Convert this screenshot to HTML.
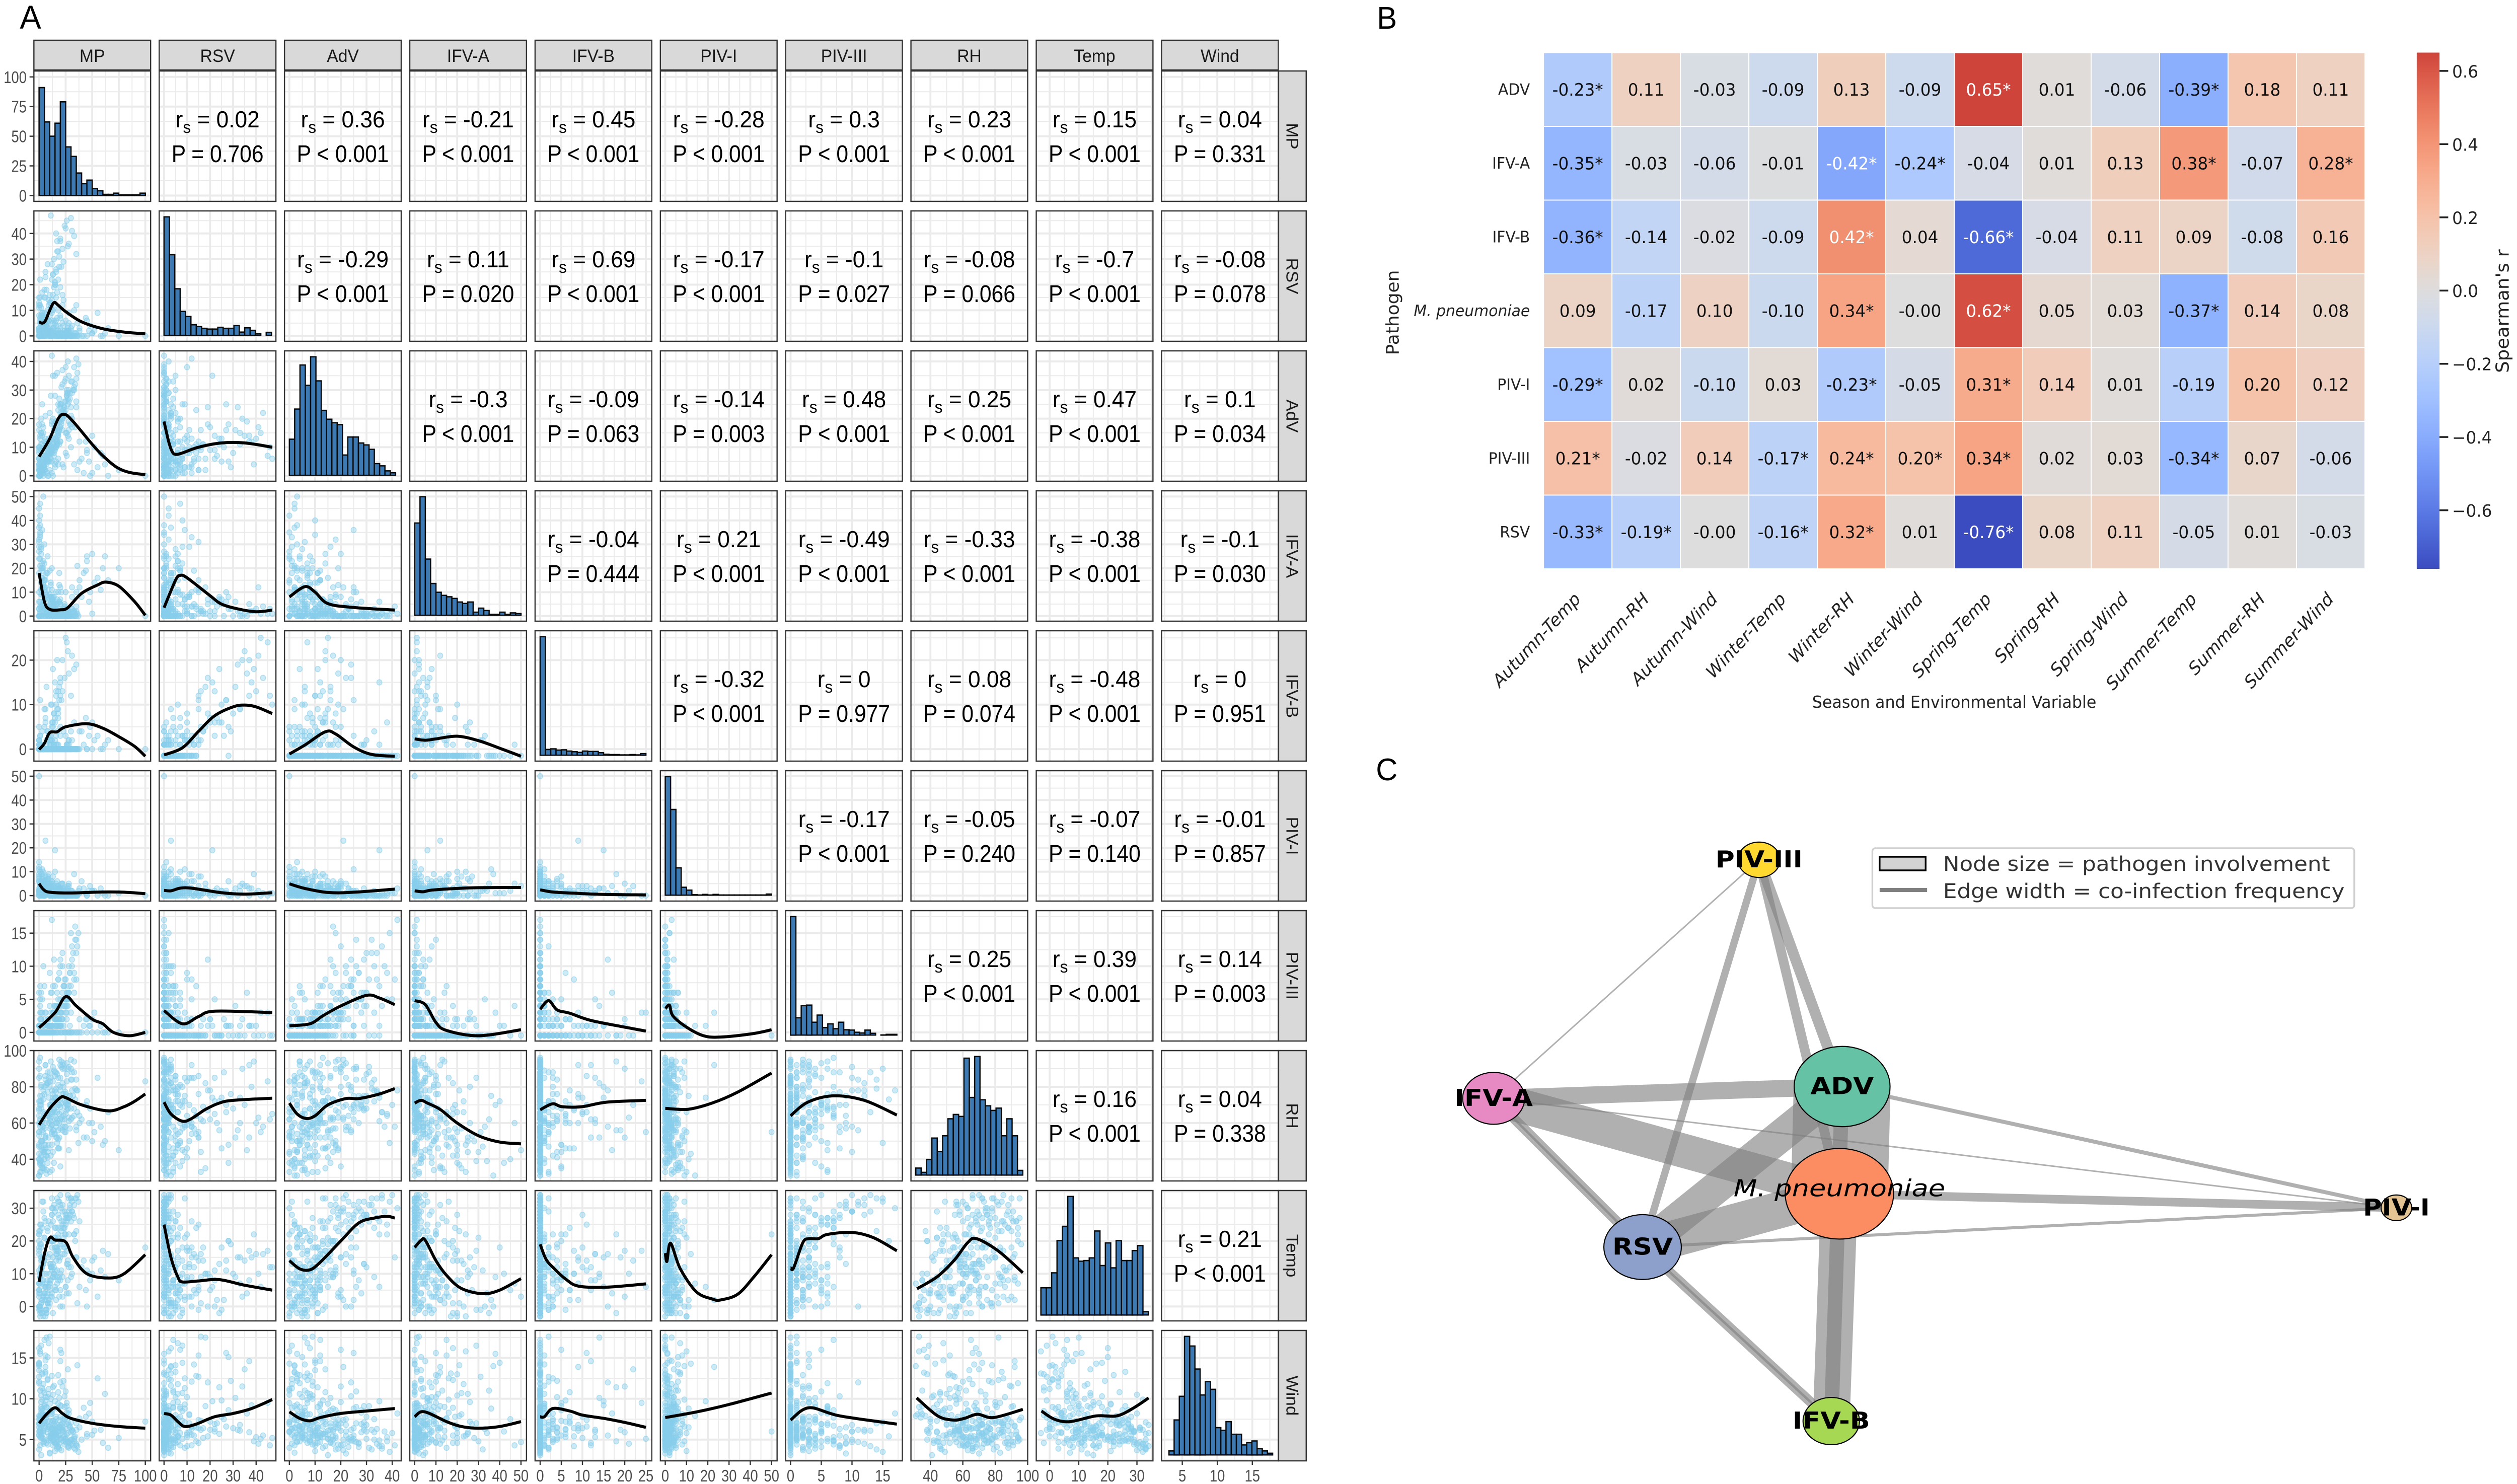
<!DOCTYPE html>
<html lang="en">
<head>
<meta charset="utf-8">
<title>Pathogen correlation, seasonal heatmap and co-infection network</title>
<style>
html,body{margin:0;padding:0;background:#fff;overflow-x:hidden;}
#root{display:block;width:100vw;height:2948px;}
.lib{font-family:"Liberation Sans",sans-serif;}
.dj{font-family:"DejaVu Sans",sans-serif;}
</style>
</head>
<body>
<svg id="root" xmlns="http://www.w3.org/2000/svg" viewBox="0 0 5197 2948" preserveAspectRatio="none">
<rect x="0" y="0" width="5197" height="2948" fill="#fff"/>
<text class="lib" x="41" y="57" font-size="66" fill="#000">A</text>
<text class="lib" x="2843" y="57" font-size="62" fill="#000">B</text>
<text class="lib" x="2841" y="1550" font-size="62" fill="#000">C</text>
<g id="matrix"></g>
<g id="heat"></g>
<text class="dj" x="4035" y="1406" font-size="33" fill="#222" text-anchor="middle">Season and Environmental Variable</text>
<text class="dj" font-size="36" fill="#222" text-anchor="middle" transform="translate(2888,621) rotate(-90)">Pathogen</text>
<text class="dj" font-size="37" fill="#222" text-anchor="middle" transform="translate(5180,618) rotate(-90)">Spearman's r</text>
<g id="net"></g>
<g>
<rect x="3866" y="1685" width="995" height="119" rx="6" fill="#fff" fill-opacity=".8" stroke="#d0d0d0" stroke-width="3.5"/>
<rect x="3881" y="1702" width="95" height="27" fill="#d3d3d3" stroke="#000" stroke-width="3.5"/>
<rect x="3881" y="1764" width="98" height="8" fill="#808080"/>
<text class="dj" x="4012" y="1730" font-size="40" fill="#333" textLength="799" lengthAdjust="spacingAndGlyphs">Node size = pathogen involvement</text>
<text class="dj" x="4012" y="1784" font-size="40" fill="#333" textLength="829" lengthAdjust="spacingAndGlyphs">Edge width = co-infection frequency</text>
</g>
</svg>
<script>
// ---------- Panel A data ----------
const varNames = ["MP","RSV","AdV","IFV-A","IFV-B","PIV-I","PIV-III","RH","Temp","Wind"];
const xDomains = [[-4.9,105],[-2.1,48.6],[-1.9,43.5],[-2.3,52.6],[-1.2,26.4],[-2.3,52.6],[-0.8,18.2],[28,100],[-4.6,35.5],[2.04,18.7]];
const yDomains = [[-4.9,105],[-2.1,48.8],[-1.9,43.7],[-2.15,52.4],[-2.7,26.6],[-2.3,52.3],[-1.3,18.4],[28,100],[-4.4,35.4],[2.4,18.36]];
const xTickValues = [[0,25,50,75,100],[0,10,20,30,40],[0,10,20,30,40],[0,10,20,30,40,50],[0,5,10,15,20,25],[0,10,20,30,40,50],[0,5,10,15],[40,60,80,100],[0,10,20,30],[5,10,15]];
const yTickValues = [[0,25,50,75,100],[0,10,20,30,40],[0,10,20,30,40],[0,10,20,30,40,50],[0,10,20],[0,10,20,30,40,50],[0,5,10,15],[40,60,80,100],[0,10,20,30],[5,10,15]];
const dataRanges = [[0,100],[0,46.7],[0,41.3],[0,50],[0,25],[0,50],[0,17.3],[31,97],[-3,33.9],[3.1,17.9]];
const zeroBaseline = [0,0,0,0,-1.5,0,-0.46,0,0,0];

const histMP = [91,62,50,61,79,41,33,19,10,13,6,4,1,1,2,.5,.5,.5,.5,2];
const histRSV = [47,32,18.5,9.5,7.5,4.2,3.5,2.8,2.5,2.5,3.2,2.8,2.8,3.9,1.3,3,2,.6,0,1.2];
const histAdV = [114,209,348,284,374,298,205,177,166,160,64,121,121,102,96,82,37,30,14,8];
const histIFVA = [38.9,50,23.7,13.4,9.7,8.4,7.8,7.1,5.6,5,5.6,1.3,3,2,.4,.4,1.3,.4,1,.7];
const histIFVB = [373,18,20,16,17,13,11,9,13,12,12,8,3,2,2,1,1,2,1,5];
const histPIV1 = [664,480,153,44,28,3,1,4,1,4,1,1,1,1,1,1,1,1,1,6];
const histPIV3 = [664,97,165,168,72,112,42,63,36,72,30,28,16,12,28,10,0,1,4,4];
const histRH = [21,8,47,111,71,118,169,182,176,351,233,356,226,208,194,201,118,169,118,14];
const histTemp = [82,82,127,224,267,357,172,162,164,172,253,149,217,142,224,164,164,194,209,10];
const histWind = [12,105,176,356,327,258,180,220,197,82,74,100,62,62,30,37,42,19,12,5];
const histograms = [histMP,histRSV,histAdV,histIFVA,histIFVB,histPIV1,histPIV3,histRH,histTemp,histWind];

const corrR = [
 ["0.02","0.36","-0.21","0.45","-0.28","0.3","0.23","0.15","0.04"],
 ["-0.29","0.11","0.69","-0.17","-0.1","-0.08","-0.7","-0.08"],
 ["-0.3","-0.09","-0.14","0.48","0.25","0.47","0.1"],
 ["-0.04","0.21","-0.49","-0.33","-0.38","-0.1"],
 ["-0.32","0","0.08","-0.48","0"],
 ["-0.17","-0.05","-0.07","-0.01"],
 ["0.25","0.39","0.14"],
 ["0.16","0.04"],
 ["0.21"]];
const corrP = [
 ["= 0.706","< 0.001","< 0.001","< 0.001","< 0.001","< 0.001","< 0.001","< 0.001","= 0.331"],
 ["< 0.001","= 0.020","< 0.001","< 0.001","= 0.027","= 0.066","< 0.001","= 0.078"],
 ["< 0.001","= 0.063","= 0.003","< 0.001","< 0.001","< 0.001","= 0.034"],
 ["= 0.444","< 0.001","< 0.001","< 0.001","< 0.001","= 0.030"],
 ["< 0.001","= 0.977","= 0.074","< 0.001","= 0.951"],
 ["< 0.001","= 0.240","= 0.140","= 0.857"],
 ["< 0.001","< 0.001","= 0.003"],
 ["< 0.001","= 0.338"],
 ["< 0.001"]];

// LOESS curves: rows by y variable, [x value, y value]
const curvesRSV = [[[0,5.5],[3,5],[6,6],[10,10],[14,13],[18,12],[25,9.5],[40,5.5],[60,2.8],[80,1.5],[100,.8]]];
const curvesAdV = [
 [[0,6.7],[10,13],[18,20],[24,21.5],[32,19],[50,11],[60,7],[73,3],[85,1.2],[100,.4]],
 [[0,19],[2,12],[3.5,8.5],[5,7.5],[8,8],[15,10],[25,11.5],[35,11.5],[47,10]]];
const curvesIFVA = [
 [[0,18],[5,6],[10,2.8],[20,2.6],[27,3.5],[40,9.5],[55,13],[63,14.2],[75,12.5],[90,6],[100,.3]],
 [[0,3.5],[5,15],[7,17],[10,16],[20,8.5],[25,5],[32,3],[40,1.8],[47,2.5]],
 [[0,8],[6,12.3],[10,10],[15,5.2],[25,3.6],[41,2.5]]];
const curvesIFVB = [
 [[0,-.1],[5,1.3],[10,3.7],[17,3.9],[25,5],[45,5.7],[60,4.7],[75,2.8],[90,.6],[100,-1.6]],
 [[0,-1.3],[8,.3],[15,4],[22,7.5],[30,9.5],[35,9.9],[40,9.5],[47,8]],
 [[0,-1.1],[6,.9],[14,3.9],[18,3.4],[25,.5],[32,-1.2],[41,-1.6]],
 [[0,2.3],[5,2],[10,2.3],[20,2.9],[30,1.9],[40,.2],[50,-1.6]]];
const curvesPIV1 = [
 [[0,5],[4,2.6],[10,1.4],[30,1.1],[60,1.5],[80,1.4],[100,.8]],
 [[0,2.2],[3,2],[7,3.1],[12,3.1],[25,1.2],[35,.6],[47,1.2]],
 [[0,4.9],[6,3],[15,1.3],[25,1.4],[41,2.7]],
 [[0,2],[4,1.6],[8,2.3],[20,3],[30,3.3],[50,3.4]],
 [[0,2.4],[3,1.5],[8,1],[15,.5],[25,.3]]];
const curvesPIV3 = [
 [[0,.7],[15,3],[25,5.4],[35,4],[50,2],[60,1.3],[70,0],[85,-.5],[100,0]],
 [[0,3.3],[8,1.3],[15,2.4],[22,3.2],[47,3]],
 [[0,1],[8,1.3],[13,2.5],[20,4],[30,5.6],[35,5.2],[41,4.2]],
 [[0,4.8],[5,4.2],[10,1.5],[15,.3],[30,-.5],[50,.4]],
 [[0,3.5],[2,4.8],[4,3.4],[7,2.9],[12,1.8],[20,.8],[25,.2]],
 [[.1,3.6],[2,4.1],[3.6,2.5],[10,.8],[18,-.5],[26,-.7],[41,-.2],[50,.4]]];
const curvesRH = [
 [[0,59],[10,68],[20,74],[25,74],[40,70],[65,66.7],[80,69],[90,72],[100,76]],
 [[0,71.5],[3,65],[8,61],[12,62.5],[18,67.5],[24,71],[30,72.5],[47,73.7]],
 [[0,71],[3,65],[6.5,62.5],[10,64],[15,70],[22,73.5],[27,73.5],[35,76],[41,79]],
 [[0,71],[3,72.5],[6,71],[12,67.5],[20,60],[30,53],[40,49.5],[50,48.5]],
 [[0,67.3],[2.9,70.6],[5.2,69],[9.9,69],[15.7,71.5],[25,72.5]],
 [[0,68.1],[10.8,67.6],[22,71],[34,77],[50,87.6]],
 [[0,64],[2.8,71.5],[7,75],[12,72.5],[17.3,64.4]]];
const curvesTemp = [
 [[0,7.5],[5,16],[10,21],[15,20.3],[25,19.7],[32,15],[45,10],[65,8.7],[80,10],[100,15.8]],
 [[0,25],[3,15],[6,9],[8,7.5],[15,7.8],[24,8.2],[35,6.5],[47,5]],
 [[0,14],[4,11.5],[8,11.2],[12,13.5],[20,20],[27,25.5],[33,27],[38,27.5],[41,27]],
 [[0,18],[3,20.2],[5,20.2],[10,14],[15,9.5],[22,5.5],[32,3.9],[40,5],[50,8.5]],
 [[0,19],[1.4,14.4],[3.3,11.6],[6,8.4],[9.1,6.2],[15.7,5.9],[25,6.9]],
 [[0,16.3],[.8,13.8],[2.5,19.3],[7,11.6],[14.6,4.5],[22,2.3],[26,2],[34,3.7],[41.5,8.9],[50,15.8]],
 [[0,11.8],[.5,11.8],[2,19.5],[3,20.7],[4.5,20.7],[6,22],[10,22.6],[13.5,21],[17.3,17]],
 [[31.7,5.4],[44.5,9.2],[55,14.3],[63,19.5],[68.5,20.7],[82,16.9],[97,10.3]]];
const curvesWind = [
 [[0,7],[7,8.1],[15,8.9],[22,8.2],[30,7.6],[50,7],[75,6.6],[100,6.4]],
 [[0,8.2],[3,8],[6,7.2],[9,6.6],[14,6.9],[22,7.8],[30,8.2],[38,8.8],[47,9.9]],
 [[0,8.4],[4,7.6],[8,7.3],[12,7.7],[20,8.2],[30,8.5],[41,8.8]],
 [[0,7.8],[3,8.4],[7,8.2],[15,7.2],[22,6.6],[30,6.4],[40,6.6],[50,7.2]],
 [[0,7.8],[1,7.8],[3,8.8],[7,8.5],[10,8],[15,7.6],[20,7.1],[25,6.5]],
 [[0,7.7],[15,8.4],[30,9.3],[50,10.7]],
 [[0,7.4],[3,8.9],[8,7.9],[17.3,6.9]],
 [[31.5,10.1],[44.5,7.9],[54,7.4],[61,7.6],[69,8.1],[79,7.7],[97,8.7]],
 [[-2.8,8.5],[1.6,7.5],[7,7.2],[16,7.9],[23,7.9],[28.5,8.8],[34,10.1]]];
const smoothCurves = [[],curvesRSV,curvesAdV,curvesIFVA,curvesIFVB,curvesPIV1,curvesPIV3,curvesRH,curvesTemp,curvesWind];

// Weekly observations, one array per variable (aligned by position)
const obsMP = [18,22,25,30,15,28,20,33,12,26,19,24,31,17,23,29,14,21,27,35,16,25,30,11,22,18,34,26,20,13,
 3,0,1,6,2,8,4,0,5,9,1,3,7,0,2,10,4,6,1,12,0,5,
 14,20,25,16,22,30,12,18,27,24,15,19,33,21,17,26,13,28,23,31,16,35,20,11,
 0,1,2,0,3,1,0,4,2,0,1,5,0,3,2,1,6,0,8,1,2,10,0,4,
 38,42,45,50,55,60,48,52,36,40,44,62,58,65,75,47,
 2,5,8,10,12,0,4,7,15,3,6,9,1,11,13,16,20,0,2,18,5,8,14,22,3,10,6,1,17,12,25,9,4,7,19,0,28,11,15,2,
 28,33,24,16,38,20,30,8,12,26,35,18,10,45,6,22,15,5,27,13,50,100,0,
 4,9,13,2,17,6,21,11,1,15,24,8,3,19,27,5,12,0,14,23,7,16,29,10,2,20,32,6,13,18,1,9,26,4,22,11,15,0,31,7,17,3,25,12,8,19,5,28,10,14,
 16,24,7,31,12,20,3,27,9,18,34,5,14,23,1,11,29,17,6,21,36,13,8,25,2,19,33,10,15,22,4,28,12,37,7,16,26,0,20,11,30,9,18,24,3,13,35,6,17,21];
const obsRSV = [0,1,0,2,0,0,3,1,0,0,1,2,0,0,4,0,1,0,2,0,0,1,3,0,0,2,0,1,0,5,
 8,12,5,15,3,10,7,2,18,6,22,9,4,13,11,16,1,25,6,14,3,8,
 30,38,42,25,34,46,28,22,35,43,20,31,39,27,33,45,24,36,29,41,26,32,37,47,
 2,0,5,8,1,12,3,0,6,15,2,4,0,9,1,7,3,11,5,0,4,13,2,6,
 3,0,6,1,9,0,4,2,5,0,7,1,0,3,0,2,
 0,0,1,0,2,0,3,1,0,0,5,2,0,1,0,4,7,0,1,10,0,2,1,12,0,3,0,15,1,0,6,0,2,18,0,1,9,0,2,0,
 5,10,1,15,2,19,0,28,6,0,12,4,8,0,3,16,21,0,2,24,1,0,0,
 0,1,3,0,7,2,0,11,1,5,0,2,17,0,4,9,1,0,3,14,0,6,1,2,0,8,0,23,3,1,0,12,2,0,5,1,20,0,4,2,0,7,1,10,3,0,15,2,0,6,
 1,0,4,0,9,2,0,3,14,0,1,6,19,0,2,11,0,37,5,1,0,16,3,0,8,27,0,2,12,0,4,1,22,0,7,40,0,3,1,13,0,6,33,2,0,10,1,5,17,0];
const obsAdV = [25,32,38,18,28,35,22,30,42,15,27,33,20,36,24,29,16,31,40,26,19,34,21,28,37,23,17,30,25,35,
 6,9,4,12,3,8,5,10,2,7,14,1,11,6,3,9,0,13,5,8,2,7,
 8,12,15,5,20,10,18,6,14,22,9,16,4,25,11,7,13,19,3,17,10,24,12,6,
 2,0,5,10,14,1,8,3,20,6,0,12,4,25,9,2,7,16,0,3,11,5,18,1,
 5,1,9,14,3,7,0,10,2,6,12,4,8,0,2,5,
 3,6,9,12,1,4,15,7,10,18,2,5,13,8,0,11,20,6,3,14,9,1,16,4,7,22,10,2,12,5,8,0,17,6,11,3,13,9,4,15,
 30,38,26,10,12,24,33,5,19,28,41,14,6,8,21,16,35,3,29,11,1,0,0,
 4,8,13,2,17,7,21,10,1,16,24,5,11,19,27,3,14,0,9,23,6,12,18,2,15,25,30,7,20,4,10,13,29,1,22,8,17,0,33,5,12,3,26,9,6,19,2,16,11,7,
 13,21,6,29,9,17,2,25,11,15,32,4,18,22,0,8,27,14,5,19,36,10,7,23,1,16,31,12,3,20,6,26,9,39,4,13,28,2,17,10,24,8,15,21,3,12,34,5,11,18];
const obsIFVA = [0,1,0,0,2,0,5,0,1,3,0,0,8,1,0,0,4,0,2,10,0,1,0,6,0,3,0,1,12,0,
 5,10,2,15,0,8,20,3,12,1,6,4,18,0,9,2,14,7,0,11,3,22,
 0,2,1,5,0,3,8,0,1,4,0,6,2,10,0,1,7,0,3,12,0,2,5,1,
 45,35,28,40,22,33,18,50,26,31,42,15,24,36,20,47,17,29,25,38,14,19,32,23,
 12,18,23,26,16,20,10,14,21,8,19,25,11,15,20,6,
 0,3,0,1,7,0,5,2,0,9,1,0,4,13,0,2,0,6,11,1,0,3,8,0,16,2,0,1,5,0,10,3,0,1,18,0,2,6,0,4,
 0,2,5,10,15,7,0,3,20,1,4,0,9,25,12,2,6,30,0,8,1,0,0,
 2,0,6,11,0,3,1,8,21,0,4,0,2,13,0,7,1,27,0,3,9,0,1,5,16,0,2,4,0,10,34,0,1,6,0,14,2,0,3,0,7,19,0,1,4,0,11,2,0,5,
 1,0,3,0,7,2,12,0,4,0,1,15,5,0,24,8,0,2,10,0,1,3,18,0,29,6,0,1,4,0,13,0,2,0,9,3,0,37,1,5,0,11,2,0,20,4,0,7,1,0];
const obsIFVB = [0,0,0,0,0,1,0,0,0,0,0,0,2,0,0,0,0,0,0,0,1,0,0,0,0,0,0,0,0,0,
 0,2,0,1,0,4,0,0,5,0,3,0,0,1,0,2,0,6,0,0,1,0,
 8,15,25,10,20,12,5,13,22,16,7,14,18,11,9,24,6,17,4,21,3,19,12,10,
 0,0,1,0,0,3,0,0,0,2,0,0,5,0,0,1,0,0,4,0,0,0,2,0,
 4,1,0,6,3,0,5,2,0,4,7,1,0,2,0,3,
 0,0,0,1,0,0,0,2,0,0,0,0,0,3,0,0,5,0,0,8,0,0,1,0,0,0,0,11,0,0,3,0,0,14,0,0,2,0,0,0,
 2,6,0,12,0,16,4,0,10,1,0,7,3,0,9,13,15,0,1,18,0,0,0,
 0,0,0,0,1,0,0,2,0,0,0,0,4,0,0,0,0,0,1,0,0,0,0,0,0,3,0,7,0,0,0,0,1,0,0,0,6,0,0,0,0,0,0,2,0,0,9,0,0,0,
 0,0,0,0,2,0,0,0,3,1,0,0,8,0,0,1,0,20,0,0,0,5,0,0,0,11,0,0,2,0,0,0,6,0,0,13,0,0,0,1,0,0,9,0,0,0,0,0,4,0];
const obsPIV1 = [0,1,0,2,0,0,1,0,3,0,0,2,0,1,0,0,4,0,1,0,2,0,0,1,0,3,0,0,1,0,
 3,6,1,8,2,4,10,0,5,7,1,2,3,6,9,0,4,2,5,1,11,3,
 1,3,0,2,5,1,0,2,4,1,0,3,9,1,2,0,1,4,0,2,1,0,3,1,
 2,5,0,1,8,3,0,4,6,2,1,0,3,11,1,5,0,2,7,1,4,0,2,3,
 1,3,0,2,0,1,4,2,0,6,1,0,3,0,1,2,
 4,0,8,2,5,1,0,3,10,1,6,2,0,4,1,3,0,7,2,0,5,1,0,3,9,0,2,4,1,6,0,2,1,3,0,14,5,1,0,2,
 0,1,2,0,3,1,0,6,4,0,1,2,5,0,23,1,19,0,3,1,2,0,50,
 1,4,0,2,6,3,0,1,5,2,0,7,1,3,0,4,2,8,0,1,3,5,0,2,6,1,0,3,4,0,2,9,1,0,5,3,1,12,0,2,4,1,0,6,2,3,0,1,4,2,
 2,0,5,1,3,0,7,2,1,4,0,6,2,0,10,3,1,0,4,2,0,8,1,3,0,2,1,5,0,3,6,1,0,2,4,1,0,9,3,0,2,1,4,0,7,2,0,3,1,5];
const obsPIV3 = [8,12,5,15,3,0,10,6,17,2,9,0,13,4,7,1,11,0,5,14,3,8,0,6,10,2,16,4,0,7,
 0,0,1,0,0,2,0,0,0,1,0,3,0,0,0,1,0,0,2,0,0,0,
 0,1,3,0,2,0,1,5,0,0,2,4,0,1,0,3,0,6,1,0,2,0,1,0,
 0,0,2,1,0,5,0,0,3,0,1,7,0,0,2,4,0,1,0,3,6,0,0,1,
 0,1,0,2,0,0,1,3,0,0,2,0,1,0,0,1,
 0,2,1,4,0,6,1,0,3,5,0,2,7,1,0,3,5,0,0,8,1,0,4,2,0,9,3,0,1,6,0,2,10,0,4,1,0,3,7,0,
 6,9,4,0,2,11,3,0,1,5,8,0,0,2,3,0,1,0,4,0,0,0,0,
 0,1,3,0,6,0,2,0,0,4,8,1,0,2,5,0,1,0,3,7,0,2,9,0,0,1,12,0,3,2,0,1,6,0,4,0,2,0,10,0,3,0,5,1,0,2,0,7,1,0,
 4,7,0,11,1,3,0,6,0,2,14,0,1,5,0,0,9,1,0,3,13,0,0,4,0,1,8,0,2,6,0,10,0,15,0,1,5,0,3,0,7,0,1,4,0,0,12,0,2,3];
const obsRH = [70,82,65,90,74,61,85,68,78,93,60,72,88,66,80,75,56,91,70,84,63,77,95,69,58,81,73,87,62,76,
 45,60,38,52,70,41,55,64,35,48,72,58,42,67,50,33,62,46,75,54,40,57,
 68,80,55,74,90,62,48,85,70,58,78,52,94,66,60,83,72,45,76,63,88,56,92,65,
 40,62,50,72,35,58,68,45,80,55,38,65,48,75,42,60,52,85,44,70,33,57,47,66,
 64,52,72,60,85,48,68,55,78,62,70,50,58,66,45,60,
 72,40,88,62,55,94,78,32,66,50,84,60,96,42,74,58,36,90,68,46,80,64,38,92,56,70,48,86,62,34,76,52,44,82,65,31,72,58,88,41,
 72,64,90,52,60,78,84,38,66,70,58,46,80,52,92,62,74,44,68,56,50,83,55,
 58,74,66,81,49,92,63,70,37,86,55,77,61,95,68,44,72,53,89,64,34,79,57,83,47,69,75,60,91,51,39,85,67,73,56,94,62,43,78,65,87,50,71,59,82,46,76,63,88,54,
 77,69,42,84,59,73,36,90,64,56,79,48,67,93,33,61,75,52,86,71,66,44,82,58,39,70,88,63,54,76,35,91,65,49,81,60,72,31,57,85,68,46,74,62,38,83,78,53,69,94];
const obsTemp = [28,31,25,33,29,22,34,27,30,26,32,24,29,33,21,28,31,26,34,23,30,27,33,25,29,32,20,28,31,26,
 -2,3,-1,6,1,8,-3,4,10,2,0,7,-2,5,12,1,3,-1,9,4,0,14,
 10,15,6,18,3,12,20,8,14,16,5,9,22,11,7,17,13,4,19,10,2,15,8,12,
 5,-2,12,18,8,0,20,3,15,-1,10,6,22,2,14,7,-3,17,4,9,1,16,11,13,
 6,14,0,10,3,17,8,15,1,12,5,9,11,16,8,10,
 18,4,24,10,28,7,15,-1,21,12,26,2,19,8,30,14,5,23,11,17,27,1,20,9,32,13,6,25,16,3,22,0,29,10,18,7,33,12,24,15,
 12,22,18,5,26,0,9,20,28,4,15,24,7,11,2,16,6,21,13,-2,14,18,22,
 13,6,20,25,9,16,30,3,23,11,18,1,14,27,8,21,33,5,12,24,-1,17,31,7,19,10,28,2,15,22,4,26,13,32,0,20,9,16,29,-2,11,24,6,18,23,3,14,27,8,21,
 24,29,7,32,12,19,2,27,15,21,33,4,10,26,-3,13,30,17,6,23,34,9,1,28,-1,14,31,5,18,25,8,29,11,32,3,16,27,0,20,12,26,6,15,22,-2,9,33,4,18,24];
const obsWind = [5.5,6.2,4.8,7.1,5.9,4.2,6.8,5.1,8.2,5.6,4.5,7.5,6.1,3.9,5.3,6.6,4.7,9.1,5.8,7.0,4.4,6.3,5.0,8.6,6.0,4.1,5.4,7.8,6.4,4.9,
 8.5,12.1,6.2,15.3,7.4,10.2,5.8,13.5,9.1,16.8,6.9,11.3,4.6,14.2,8.0,17.6,7.1,9.8,5.3,12.8,6.5,10.7,
 6.4,9.2,5.1,7.8,11.5,4.3,8.6,6.0,13.6,5.5,7.2,10.1,4.8,15.6,6.8,9.5,5.7,8.2,12.2,4.5,7.5,6.2,14.6,5.2,
 7.5,11.0,5.2,14.4,8.1,6.3,16.2,4.7,9.6,12.7,6.0,17.2,5.5,8.8,10.4,4.3,13.1,7.0,5.9,15.5,9.0,6.6,3.8,11.8,
 6.5,8.9,5.4,7.2,12.5,4.6,9.5,6.1,14.1,5.0,7.8,10.6,6.2,4.0,5.2,8.2,
 5.8,7.2,4.4,9.4,6.3,11.9,5.1,8.1,3.6,6.9,13.3,5.4,7.7,4.9,10.5,6.1,16.0,5.6,8.7,4.2,7.0,12.4,5.0,6.6,9.9,3.3,14.7,7.4,5.3,8.4,4.7,11.2,6.0,17.5,5.5,7.9,4.0,10.0,6.7,3.1,
 6.8,5.3,9.0,4.6,7.6,12.0,5.9,15.1,6.4,8.3,4.3,10.8,7.3,5.7,13.9,6.2,9.7,4.8,7.1,11.4,5.6,7.2,6.0,
 6.1,4.9,7.3,5.4,8.8,6.7,3.7,5.9,7.9,4.6,10.3,6.3,5.2,7.4,4.1,9.3,5.7,6.9,11.6,4.8,7.7,5.5,6.5,3.4,8.3,5.1,6.0,7.0,4.3,12.9,5.8,6.6,9.1,4.5,7.5,5.3,6.2,14.3,5.0,8.0,4.7,6.8,10.9,5.6,7.2,3.9,6.4,8.6,5.2,6.9,
 5.7,4.4,8.9,6.2,7.1,5.0,13.2,4.8,6.5,9.4,3.8,7.6,5.4,6.0,15.8,8.1,4.6,5.9,10.2,6.8,4.2,7.3,12.3,5.1,16.5,6.6,4.0,8.5,5.6,7.0,11.0,4.7,6.3,3.5,9.0,5.3,6.9,14.0,7.8,5.5,4.9,10.6,6.1,7.4,13.0,5.8,4.5,8.0,6.4,5.2];
const observations = [obsMP,obsRSV,obsAdV,obsIFVA,obsIFVB,obsPIV1,obsPIV3,obsRH,obsTemp,obsWind];

// ---------- Panel B data ----------
const heatRows = ["ADV","IFV-A","IFV-B","M. pneumoniae","PIV-I","PIV-III","RSV"];
const heatCols = ["Autumn-Temp","Autumn-RH","Autumn-Wind","Winter-Temp","Winter-RH","Winter-Wind","Spring-Temp","Spring-RH","Spring-Wind","Summer-Temp","Summer-RH","Summer-Wind"];
const heatADV = [-0.23,0.11,-0.03,-0.09,0.13,-0.09,0.65,0.01,-0.06,-0.39,0.18,0.11];
const heatIFVA = [-0.35,-0.03,-0.06,-0.01,-0.42,-0.24,-0.04,0.01,0.13,0.38,-0.07,0.28];
const heatIFVB = [-0.36,-0.14,-0.02,-0.09,0.42,0.04,-0.66,-0.04,0.11,0.09,-0.08,0.16];
const heatMPn = [0.09,-0.17,0.10,-0.10,0.34,-0.001,0.62,0.05,0.03,-0.37,0.14,0.08];
const heatPIV1 = [-0.29,0.02,-0.10,0.03,-0.23,-0.05,0.31,0.14,0.01,-0.19,0.20,0.12];
const heatPIV3 = [0.21,-0.02,0.14,-0.17,0.24,0.20,0.34,0.02,0.03,-0.34,0.07,-0.06];
const heatRSV = [-0.33,-0.19,-0.001,-0.16,0.32,0.01,-0.76,0.08,0.11,-0.05,0.01,-0.03];
const heatValues = [heatADV,heatIFVA,heatIFVB,heatMPn,heatPIV1,heatPIV3,heatRSV];
const heatSignificant = ["100000100100","100011000101","100010100000","000010100100","100010100000","100111100100","110110100000"];
const colorbarTicks = [-0.6,-0.4,-0.2,0,0.2,0.4,0.6];
const colorDomain = [-0.76,0.65];
const colorHalfSpan = 0.76;
const coolwarm = [[59,76,192],[68,90,204],[77,104,215],[87,117,225],[98,130,234],[108,142,241],[119,154,247],[130,165,251],[141,176,254],[152,185,255],[163,194,255],[174,201,253],[184,208,249],[194,213,244],[204,217,238],[213,219,230],[221,221,221],[229,216,209],[236,211,197],[241,204,185],[245,196,173],[247,187,160],[247,177,148],[247,166,135],[244,154,123],[241,141,111],[236,127,99],[229,112,88],[222,96,77],[213,80,66],[203,62,56],[192,40,47],[180,4,38]];

// ---------- Panel C data ----------
const nodeNames = ["M. pneumoniae","ADV","RSV","IFV-A","IFV-B","PIV-III","PIV-I"];
const nodeInvolvement = [125,98,64,41,34,19,10];
const nodeLayoutX = [0.383,0.386,0.165,0,0.374,0.294,1];
const nodeLayoutY = [0.595,0.404,0.690,0.425,1,0,0.620];
const nodeColors = ["#fc8d62","#66c2a5","#8da0cb","#e78ac3","#a6d854","#ffd92f","#e5c494"];
const nodeLabelLengths = [437,131,125,162,160,180,138];
const edgeFrom = ["M. pneumoniae","IFV-A","IFV-A","RSV","RSV","M. pneumoniae","ADV","PIV-III","PIV-III","PIV-III","PIV-III","IFV-A","IFV-A","RSV","RSV","M. pneumoniae","ADV","RSV","IFV-A"];
const edgeTo = ["ADV","M. pneumoniae","ADV","ADV","M. pneumoniae","IFV-B","IFV-B","ADV","M. pneumoniae","RSV","IFV-A","RSV","RSV","IFV-B","IFV-B","PIV-I","PIV-I","PIV-I","PIV-I"];
const edgeFrequency = [100,34,17,32.5,36.5,38,15,11,10,7.5,1.5,10,2.5,10,2.5,8.5,4,3,1.5];

const SVGNS = "http://www.w3.org/2000/svg";
function mk(tag, attrs, parent){
  const e = document.createElementNS(SVGNS, tag);
  for (const k in attrs) e.setAttribute(k, attrs[k]);
  parent.appendChild(e);
  return e;
}
function linear(domain, r0, r1){
  return v => r0 + (v - domain[0]) / (domain[1] - domain[0]) * (r1 - r0);
}
function smoothPath(pts){
  let d = "M" + pts[0][0].toFixed(1) + " " + pts[0][1].toFixed(1);
  for (let i = 0; i < pts.length - 1; i++){
    const p0 = pts[Math.max(i-1,0)], p1 = pts[i], p2 = pts[i+1], p3 = pts[Math.min(i+2,pts.length-1)];
    const c1x = p1[0] + (p2[0]-p0[0])/6, c1y = p1[1] + (p2[1]-p0[1])/6;
    const c2x = p2[0] - (p3[0]-p1[0])/6, c2y = p2[1] - (p3[1]-p1[1])/6;
    d += "C" + c1x.toFixed(1) + " " + c1y.toFixed(1) + " " + c2x.toFixed(1) + " " + c2y.toFixed(1) + " " + p2[0].toFixed(1) + " " + p2[1].toFixed(1);
  }
  return d;
}
function minorsOf(ticks, dom){
  const step = ticks[1] - ticks[0], out = [];
  for (let v = ticks[0] - step/2 - step*3; v < dom[1]; v += step){
    if (v > dom[0]) out.push(v);
  }
  return out;
}

// ---------- Panel A drawing ----------
const PW = 241, PH = 259;
const colLeft = j => 70 + 258.7 * j;
const rowTop = i => 141 + 278 * i;
const matrix = document.getElementById("matrix");
const sampleCount = Math.min(...observations.map(a => a.length));

for (let j = 0; j < 10; j++){
  const stripG = mk("g", {}, matrix);
  
  
  const r = mk("rect", {x: colLeft(j), y: 80, width: PW, height: 59, fill: "#d9d9d9", stroke: "#333", "stroke-width": 2.5}, stripG);
  
  
  const t = mk("text", {x: colLeft(j) + PW/2, y: 123, "font-size": 35, fill: "#1a1a1a", "text-anchor": "middle", "class": "lib"}, stripG);
  
  
  t.textContent = varNames[j];
}
for (let i = 0; i < 10; i++){
  const stripG = mk("g", {}, matrix);
  
  
  const r = mk("rect", {x: 2640, y: rowTop(i), width: 57, height: PH, fill: "#d9d9d9", stroke: "#333", "stroke-width": 2.5}, stripG);
  
  
  const t = mk("text", {"font-size": 35, fill: "#1a1a1a", "text-anchor": "middle", "class": "lib", transform: "translate(2656," + (rowTop(i) + PH/2) + ") rotate(90)"}, stripG);
  
  
  t.textContent = varNames[i];
}

for (let i = 0; i < 10; i++){
  for (let j = 0; j < 10; j++){
    const g = mk("g", {}, matrix);
    
    
    const box = mk("svg", {x: colLeft(j), y: rowTop(i), width: PW, height: PH}, g);
    
    
    const bg = mk("rect", {x: 0, y: 0, width: PW, height: PH, fill: "#fff"}, box);
    
    
    const xS = linear(xDomains[j], 0, PW), yS = linear(yDomains[i], PH, 0);
    const addGrid = (vals, vertical, w) => {
      vals.forEach(v => {
        const p = vertical ? xS(v) : yS(v);
        const gl = mk("line", vertical ? {x1: p, x2: p, y1: 0, y2: PH} : {x1: 0, x2: PW, y1: p, y2: p}, box);
        gl.setAttribute("stroke", "#ebebeb");
        gl.setAttribute("stroke-width", w);
        
        
      });
    };
    addGrid(minorsOf(xTickValues[j], xDomains[j]), true, 2);
    addGrid(minorsOf(yTickValues[i], yDomains[i]), false, 2);
    addGrid(xTickValues[j], true, 4);
    addGrid(yTickValues[i], false, 4);

    if (i > j){
      const pts = mk("g", {fill: "#87ceeb", "fill-opacity": .42, stroke: "#87ceeb", "stroke-opacity": .6, "stroke-width": 1.5}, box);
      
      
      for (let k = 0; k < sampleCount; k++){
        let yv = observations[i][k];
        if (yv === 0 && j > 0) yv = zeroBaseline[i];
        const c = mk("circle", {cx: xS(observations[j][k]).toFixed(1), cy: yS(yv).toFixed(1), r: 5.4}, pts);
        
        
      }
      const curve = smoothCurves[i][j].map(p => [xS(p[0]), yS(p[1])]);
      const path = mk("path", {d: smoothPath(curve), fill: "none", stroke: "#000", "stroke-width": 6, "stroke-linejoin": "round"}, box);
      
      
    } else if (i === j){
      const counts = histograms[i], range = dataRanges[i];
      const width = (range[1] - range[0]) / counts.length;
      const maxC = Math.max(...counts);
      const span = yDomains[i][1] - yDomains[i][0];
      const base = i === 0 ? 0 : yDomains[i][0] + span * 0.0454;
      const top = yDomains[i][1] - span * 0.0454;
      const k = i === 0 ? 1 : (top - base) / maxC;
      counts.forEach((c, b) => {
        const x0 = xS(range[0] + b * width), x1 = xS(range[0] + (b + 1) * width);
        const y1 = yS(base + c * k), y0 = yS(base);
        const bar = mk("rect", {x: x0.toFixed(1), y: y1.toFixed(1), width: (x1 - x0).toFixed(1), height: Math.max(0, y0 - y1).toFixed(1), fill: "#3d7ab3", stroke: "#0a0a0a", "stroke-width": 2.6}, box);
        
        
      });
    } else {
      const idx = j - i - 1;
      const cx = PW / 2;
      const r = mk("text", {x: cx, y: 112, "font-size": 46, fill: "#000", "text-anchor": "middle", "class": "lib"}, box);
      
      
      const t1 = mk("tspan", {}, r); t1.textContent = "r";
      const t2 = mk("tspan", {dy: 11, "font-size": 33}, r); t2.textContent = "s";
      const t3 = mk("tspan", {dy: -11}, r); t3.textContent = " = " + corrR[i][idx];
      const p = mk("text", {x: cx, y: 181, "font-size": 48, fill: "#000", "text-anchor": "middle", "class": "lib", textLength: 190, lengthAdjust: "spacingAndGlyphs"}, box);
      
      
      p.textContent = "P " + corrP[i][idx];
    }
    const border = mk("rect", {x: colLeft(j), y: rowTop(i), width: PW, height: PH, fill: "none", stroke: "#333", "stroke-width": 2.5}, g);
    
    
  }
}
for (let i = 0; i < 10; i++){
  const yS = linear(yDomains[i], rowTop(i) + PH, rowTop(i));
  yTickValues[i].forEach(v => {
    const y = yS(v);
    const tk = mk("line", {x1: 61, x2: 70, y1: y, y2: y, stroke: "#333", "stroke-width": 2.5}, matrix);
    
    
    const lb = mk("text", {"font-size": 33, fill: "#4d4d4d", "text-anchor": "end", "class": "lib", transform: "translate(55," + (y + 12) + ") scale(.86,1)"}, matrix);
    
    
    lb.textContent = v;
  });
}
for (let j = 0; j < 10; j++){
  const xS = linear(xDomains[j], colLeft(j), colLeft(j) + PW);
  const bottom = rowTop(9) + PH;
  xTickValues[j].forEach(v => {
    const x = xS(v);
    const tk = mk("line", {x1: x, x2: x, y1: bottom, y2: bottom + 8, stroke: "#333", "stroke-width": 2.5}, matrix);
    
    
    const lb = mk("text", {"font-size": 33, fill: "#4d4d4d", "text-anchor": "middle", "class": "lib", transform: "translate(" + x + ",2943) scale(.86,1)"}, matrix);
    
    
    lb.textContent = v;
  });
}

// ---------- Panel B drawing ----------
const heat = document.getElementById("heat");
const HL = 3187, HT = 104.5, HW = 1696, HH = 1025.5;
function cmap(v){
  const t = Math.max(0, Math.min(1, 0.5 + v / (2 * colorHalfSpan)));
  const f = t * (coolwarm.length - 1), a = Math.floor(f), b = Math.min(a + 1, coolwarm.length - 1), u = f - a;
  const c = [0,1,2].map(n => Math.round(coolwarm[a][n] + (coolwarm[b][n] - coolwarm[a][n]) * u));
  return "rgb(" + c.join(",") + ")";
}
const cw = HW / heatCols.length, ch = HH / heatRows.length;
heatRows.forEach((name, r) => {
  heatCols.forEach((col, c) => {
    const v = heatValues[r][c];
    const rect = mk("rect", {x: HL + c * cw, y: HT + r * ch, width: cw, height: ch, fill: cmap(v), stroke: "#fff", "stroke-width": 2}, heat);
    
    
    const txt = mk("text", {x: HL + (c + .5) * cw, y: HT + (r + .5) * ch + 12.5, "font-size": 34, "text-anchor": "middle", "class": "dj", fill: Math.abs(v) >= 0.42 ? "#fff" : "#111"}, heat);
    
    
    txt.textContent = v.toFixed(2) + (heatSignificant[r][c] === "1" ? "*" : "");
  });
  const lb = mk("text", {x: 3159, y: HT + (r + .5) * ch + 11, "font-size": 31, "text-anchor": "end", "class": "dj", fill: "#222", "font-style": name.startsWith("M.") ? "italic" : "normal"}, heat);
  
  
  lb.textContent = name;
});
heatCols.forEach((name, c) => {
  const lb = mk("text", {"font-size": 35, "text-anchor": "end", "class": "dj", fill: "#222", "font-style": "italic", transform: "translate(" + (HL + (c + .5) * cw + 8) + ",1192) rotate(-46)"}, heat);
  
  
  lb.textContent = name;
});
const defs = mk("defs", {}, heat);
const grad = mk("linearGradient", {id: "cbgrad", x1: 0, y1: 1, x2: 0, y2: 0}, defs);
for (let n = 0; n <= 40; n++){
  const v = colorDomain[0] + (colorDomain[1] - colorDomain[0]) * n / 40;
  mk("stop", {offset: n / 40, "stop-color": cmap(v)}, grad);
}
const cbar = mk("rect", {x: 4990, y: HT, width: 47, height: HH, fill: "url(#cbgrad)"}, heat);


const cbY = linear(colorDomain, HT + HH, HT);
colorbarTicks.forEach(v => {
  const y = cbY(v);
  const tk = mk("line", {x1: 5037, x2: 5055, y1: y, y2: y, stroke: "#222", "stroke-width": 3.5}, heat);
  
  
  const lb = mk("text", {x: 5063, y: y + 13, "font-size": 34, "class": "dj", fill: "#222"}, heat);
  
  
  lb.textContent = (v < 0 ? "\u2212" : "") + Math.abs(v).toFixed(1);
});

// ---------- Panel C drawing ----------
const net = document.getElementById("net");
const netX = linear([0,1], 3084, 4948), netY = linear([0,1], 1708, 2823);
const nodeIndex = n => nodeNames.indexOf(n);
edgeFrom.forEach((from, k) => {
  const a = nodeIndex(from), b = nodeIndex(edgeTo[k]);
  const ln = mk("line", {x1: netX(nodeLayoutX[a]), y1: netY(nodeLayoutY[a]), x2: netX(nodeLayoutX[b]), y2: netY(nodeLayoutY[b]), stroke: "#808080", "stroke-opacity": .62, "stroke-width": edgeFrequency[k] * 2}, net);
  
  
});
nodeNames.forEach((name, k) => {
  const rx = 10 * Math.sqrt(nodeInvolvement[k]);
  const nd = mk("ellipse", {cx: netX(nodeLayoutX[k]), cy: netY(nodeLayoutY[k]), rx: rx, ry: rx * .805, fill: nodeColors[k], stroke: "#000", "stroke-width": 2.2}, net);
  
  
});
nodeNames.forEach((name, k) => {
  const isItalic = name.startsWith("M.");
  const lb = mk("text", {x: netX(nodeLayoutX[k]), y: netY(nodeLayoutY[k]) + (isItalic ? 5 : 15), "font-size": 46, "text-anchor": "middle", "class": "dj", fill: "#000", "font-weight": isItalic ? "normal" : "bold", "font-style": isItalic ? "italic" : "normal", textLength: nodeLabelLengths[k], lengthAdjust: "spacingAndGlyphs"}, net);
  
  
  lb.textContent = name;
});
</script>
</body>
</html>
